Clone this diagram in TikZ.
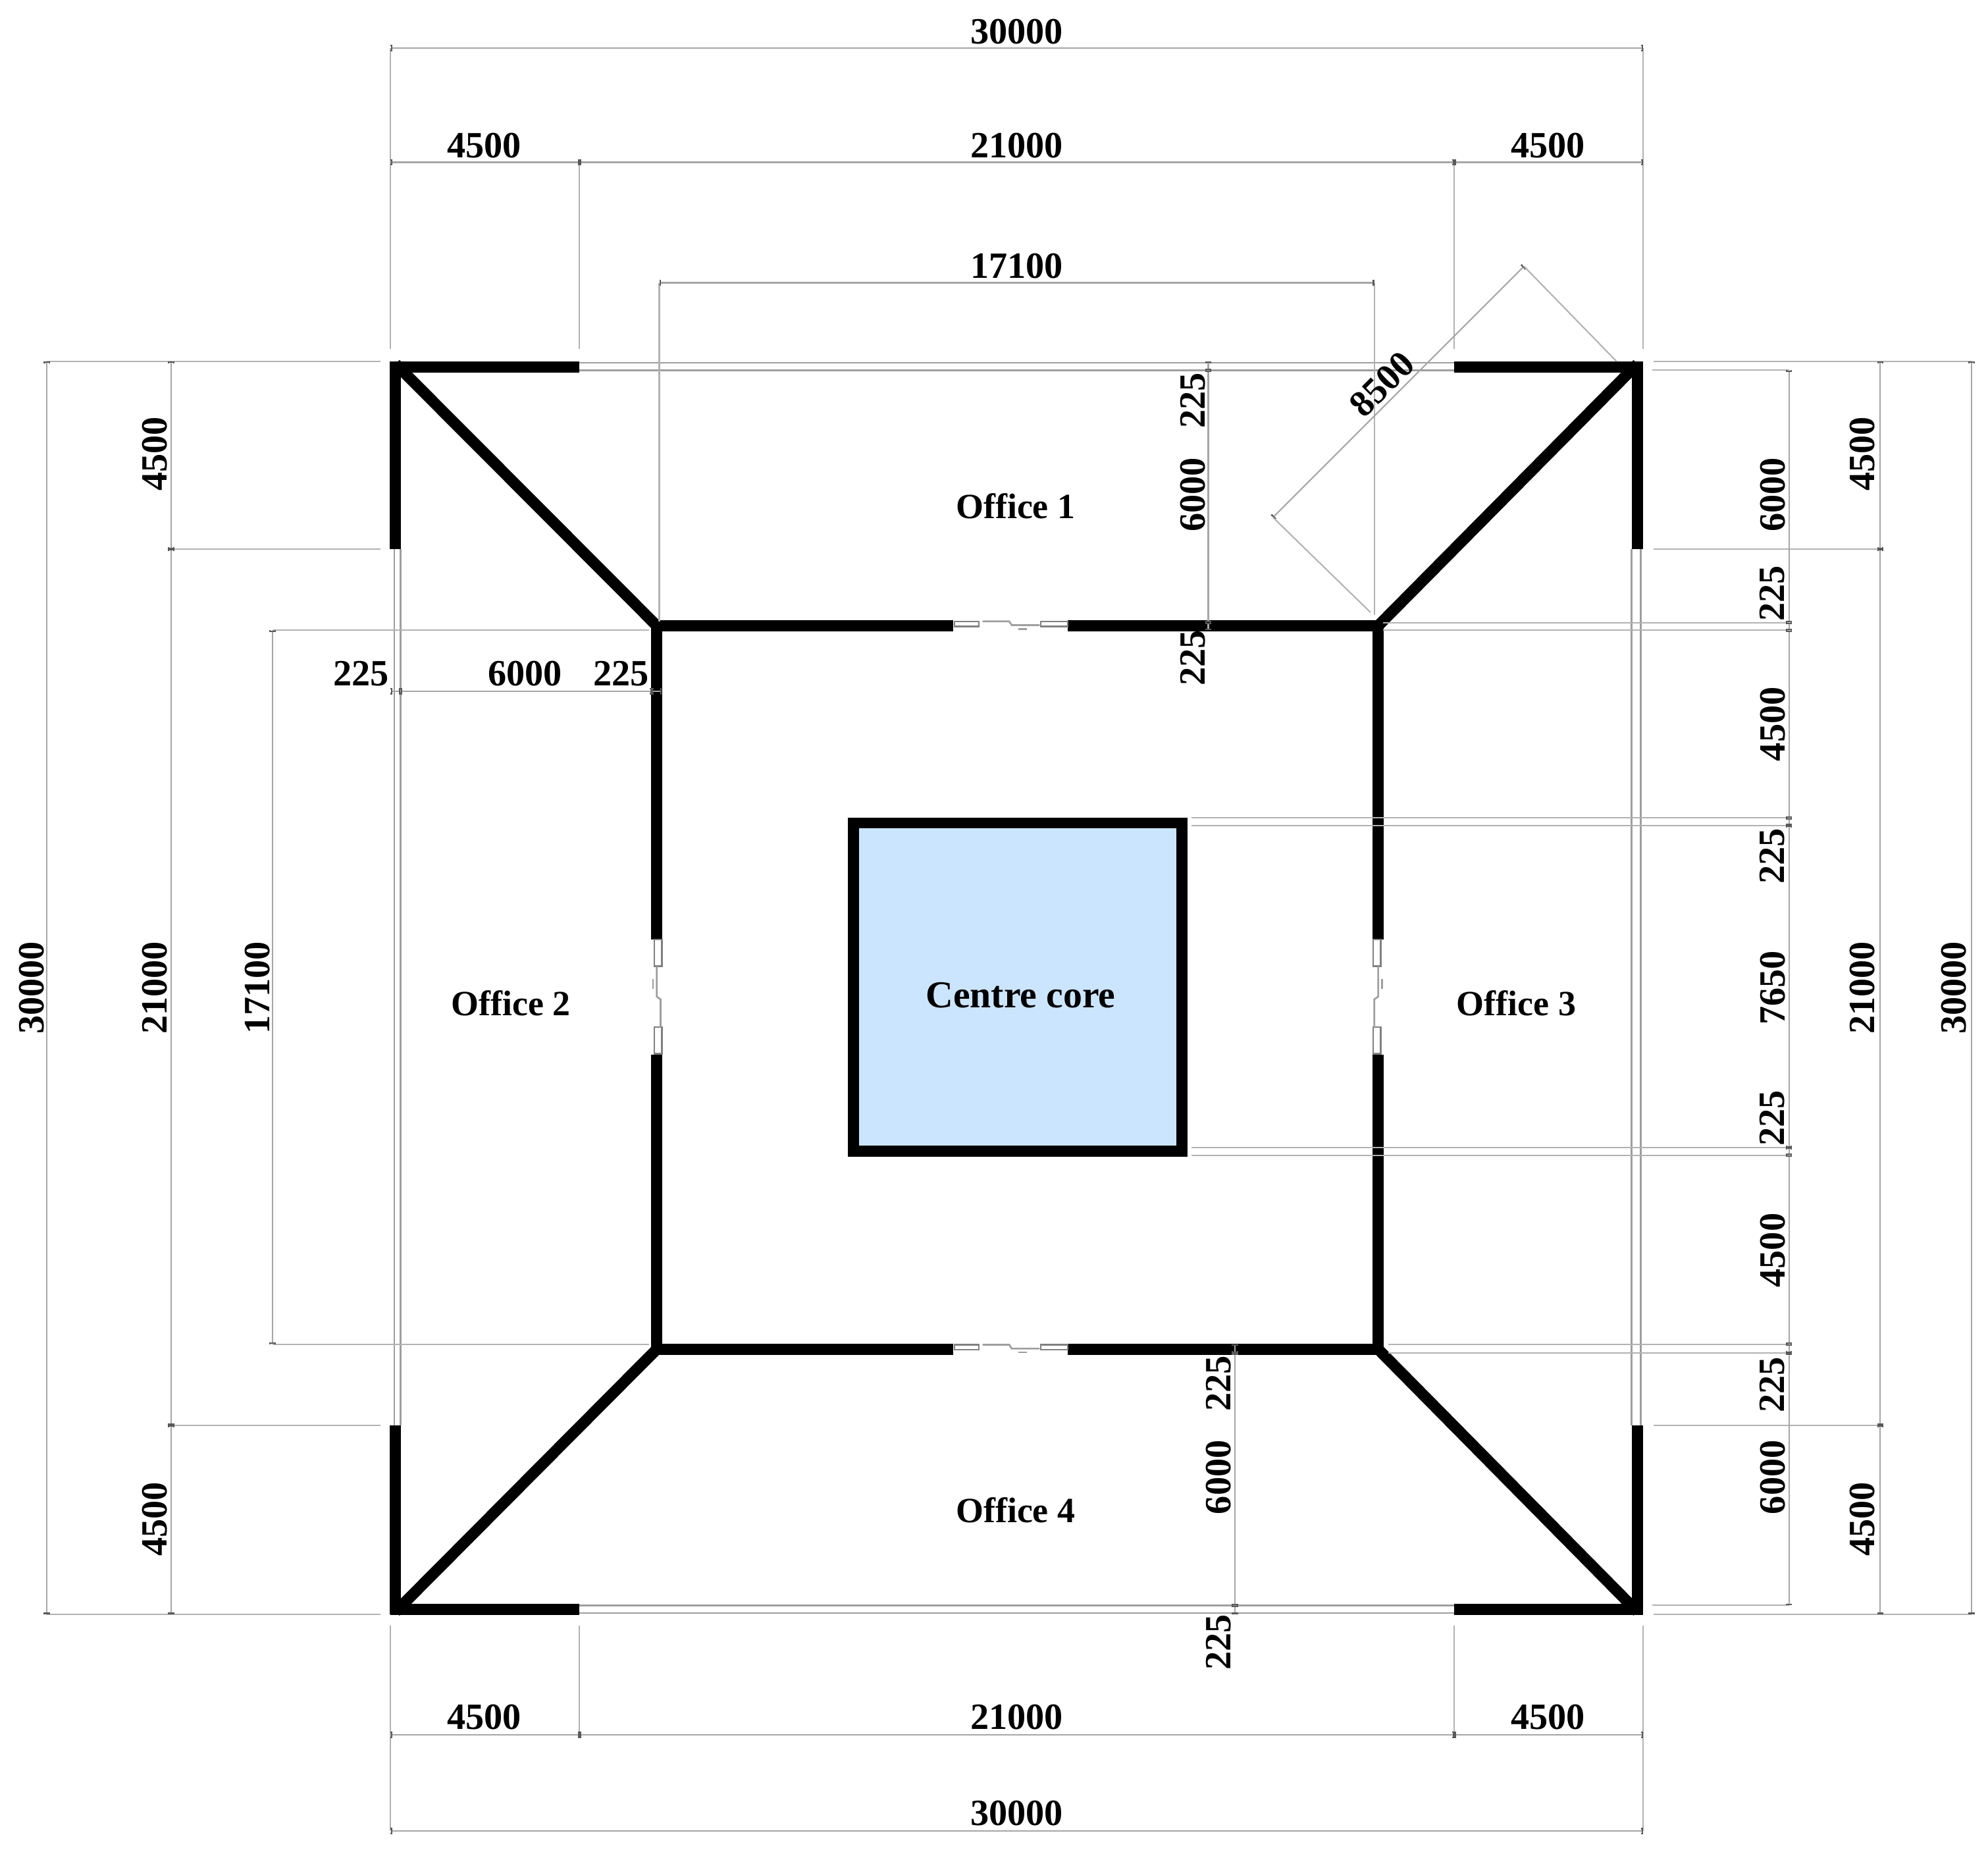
\documentclass[tikz,border=0pt]{standalone}
\usepackage{fontspec}
\setmainfont{Liberation Serif}
\usetikzlibrary{arrows.meta}
\definecolor{coreblue}{HTML}{CCE5FF}
\begin{document}
\begin{tikzpicture}[x=0.5pt,y=-0.5pt,
w/.style={draw=black,line width=4.4pt,line cap=butt},
g/.style={draw=black!38,line width=0.7pt},
f/.style={draw=black!50,line width=0.6pt,fill=white},
e/.style={draw=black!30,line width=0.55pt},
d/.style={draw=black!35,line width=0.55pt,{Bar[width=2.5pt,length=0.7pt,black!65]}-{Bar[width=2.5pt,length=0.7pt,black!65]}},
t/.style={font=\bfseries\fontsize{14.6}{16}\selectfont,inner sep=0pt},
r/.style={t,rotate=90},
o/.style={font=\bfseries\fontsize{14}{16}\selectfont,inner sep=0pt}]
\useasboundingbox (0,0) rectangle (1568,1461.6);

% glazing
\path[g] (457,286) -- (1147,286);
\path[g] (457,292) -- (1147,292);
\path[g] (457,1266) -- (1147,1266);
\path[g] (457,1272) -- (1147,1272);
\path[g] (311,433) -- (311,1124);
\path[g] (316,433) -- (316,1124);
\path[g] (1287,433) -- (1287,1124);
\path[g] (1294,433) -- (1294,1124);

% outer walls
\path[w] (457,289.5) -- (308,289.5);
\path[w] (312,285) -- (312,433);
\path[w] (1147,289.5) -- (1296,289.5);
\path[w] (1291.5,285) -- (1291.5,433);
\path[w] (457,1269) -- (308,1269);
\path[w] (312,1273) -- (312,1124);
\path[w] (1147,1269) -- (1296,1269);
\path[w] (1291.5,1273) -- (1291.5,1124);

% diagonals
\path[w] (312,287) -- (518,493.5);
\path[w] (1291.5,287) -- (1087,493.5);
\path[w] (312,1271) -- (518,1064);
\path[w] (1291.5,1271) -- (1087,1064);

% inner walls
\path[w] (514,493.5) -- (752,493.5);
\path[w] (842,493.5) -- (1091,493.5);
\path[w] (514,1064) -- (752,1064);
\path[w] (842,1064) -- (1091,1064);
\path[w] (518,490) -- (518,741);
\path[w] (518,832) -- (518,1068);
\path[w] (1087,490) -- (1087,741);
\path[w] (1087,832) -- (1087,1068);

% doors
\path[f] (753,490) rectangle (772,494);
\path[f] (821,490) rectangle (842,494);
\path[g] (775,490) -- (796,490) -- (798,493) -- (820,493);
\path[g] (803,496) -- (810,496);
\path[f] (753,1060.5) rectangle (772,1064.5);
\path[f] (821,1060.5) rectangle (842,1064.5);
\path[g] (775,1060.5) -- (796,1060.5) -- (798,1063.5) -- (820,1063.5);
\path[g] (803,1066.5) -- (810,1066.5);
\path[f] (516,741) rectangle (522,762);
\path[f] (516,810) rectangle (522,831);
\path[g] (518,762) -- (518,786) -- (521,788) -- (521,810);
\path[g] (515,772) -- (515,780);
\path[f] (1083,741) rectangle (1089,762);
\path[f] (1083,810) rectangle (1089,831);
\path[g] (1087,762) -- (1087,786) -- (1084,788) -- (1084,810);
\path[g] (1090,772) -- (1090,780);

% centre core
\path[w,fill=coreblue] (673,649) rectangle (932,908);

% extension lines top and bottom
\path[e] (308,38) -- (308,275);
\path[e] (1296,38) -- (1296,275);
\path[e] (457,128) -- (457,275);
\path[e] (1147,128) -- (1147,275);
\path[e] (520,223) -- (520,490);
\path[e] (1084,223) -- (1084,485);
\path[e] (308,1282) -- (308,1444);
\path[e] (1296,1282) -- (1296,1444);
\path[e] (457,1282) -- (457,1368);
\path[e] (1147,1282) -- (1147,1368);

% extension lines left
\path[e] (37,285) -- (300,285);
\path[e] (37,1273) -- (300,1273);
\path[e] (135,433) -- (300,433);
\path[e] (135,1124) -- (300,1124);
\path[e] (215,497) -- (512,497);
\path[e] (215,1060) -- (512,1060);

% extension lines right
\path[e] (1304,285) -- (1555,285);
\path[e] (1304,1273) -- (1555,1273);
\path[e] (1304,433) -- (1483,433);
\path[e] (1304,1124) -- (1483,1124);
\path[e] (1303,292) -- (1411,292);
\path[e] (1303,1266) -- (1411,1266);
\path[e] (1091,491) -- (1411,491);
\path[e] (1091,497) -- (1411,497);
\path[e] (940,645) -- (1411,645);
\path[e] (940,651) -- (1411,651);
\path[e] (940,905) -- (1411,905);
\path[e] (940,911) -- (1411,911);
\path[e] (1095,1060) -- (1411,1060);
\path[e] (1095,1067) -- (1411,1067);

% dimension lines
\path[d] (308,38) -- (1296,38);
\path[d] (308,128) -- (457,128);
\path[d] (457,128) -- (1147,128);
\path[d] (1147,128) -- (1296,128);
\path[d] (520,223) -- (1084,223);
\path[d] (308,1368) -- (457,1368);
\path[d] (457,1368) -- (1147,1368);
\path[d] (1147,1368) -- (1296,1368);
\path[d] (308,1444) -- (1296,1444);
\path[d] (37,285) -- (37,1273);
\path[d] (135,285) -- (135,433);
\path[d] (135,433) -- (135,1124);
\path[d] (135,1124) -- (135,1273);
\path[d] (215,497) -- (215,1060);
\path[d] (308,545) -- (316,545);
\path[d] (316,545) -- (514,545);
\path[d] (514,545) -- (522,545);
\path[d] (953,285) -- (953,292);
\path[d] (953,292) -- (953,491);
\path[d] (953,491) -- (953,497);
\path[d] (974,1060) -- (974,1067);
\path[d] (974,1067) -- (974,1266);
\path[d] (974,1266) -- (974,1273);
\path[d] (1483,285) -- (1483,433);
\path[d] (1483,433) -- (1483,1124);
\path[d] (1483,1124) -- (1483,1273);
\path[d] (1555,285) -- (1555,1273);
\path[d] (1411,292) -- (1411,491);
\path[d] (1411,491) -- (1411,497);
\path[d] (1411,497) -- (1411,645);
\path[d] (1411,645) -- (1411,651);
\path[d] (1411,651) -- (1411,905);
\path[d] (1411,905) -- (1411,911);
\path[d] (1411,911) -- (1411,1060);
\path[d] (1411,1060) -- (1411,1067);
\path[d] (1411,1067) -- (1411,1266);

% aligned dimension
\path[d] (1202,210) -- (1004,408);
\path[e] (1202,210) -- (1275,285);
\path[e] (1004,408) -- (1081,483);

% labels
\node[t] (topAll) at (802,25) {30000};
\node[t] (topL) at (382,115) {4500};
\node[t] (topM) at (802,115) {21000};
\node[t] (topR) at (1221,115) {4500};
\node[t] (topIn) at (802,210) {17100};
\node[t] (botL) at (382,1354) {4500};
\node[t] (botM) at (802,1354) {21000};
\node[t] (botR) at (1221,1354) {4500};
\node[t] (botAll) at (802,1430) {30000};
\node[r] (lftAll) at (25,779) {30000};
\node[r] (lftT) at (122,358) {4500};
\node[r] (lftM) at (122,779) {21000};
\node[r] (lftB) at (122,1198) {4500};
\node[r] (lftIn) at (203,779) {17100};
\node[t] (wA) at (285,531) {225};
\node[t] (wB) at (414,531) {6000};
\node[t] (wC) at (490,531) {225};
\node[r] (nA) at (941,316) {225};
\node[r] (nB) at (941,390) {6000};
\node[r] (nC) at (941,519) {225};
\node[r] (sA) at (961,1091) {225};
\node[r] (sB) at (961,1165) {6000};
\node[r] (sC) at (961,1295) {225};
\node[t,rotate=45] (diag) at (1090,303) {8500};
\node[r] (rA) at (1398,390) {6000};
\node[r] (rB) at (1398,468) {225};
\node[r] (rC) at (1398,571) {4500};
\node[r] (rD) at (1398,675) {225};
\node[r] (rE) at (1398,779) {7650};
\node[r] (rF) at (1398,882) {225};
\node[r] (rG) at (1398,986) {4500};
\node[r] (rH) at (1398,1092) {225};
\node[r] (rI) at (1398,1165) {6000};
\node[r] (rgtT) at (1469,358) {4500};
\node[r] (rgtM) at (1469,779) {21000};
\node[r] (rgtB) at (1469,1198) {4500};
\node[r] (rgtAll) at (1541,779) {30000};
\node[o] (office1) at (801,399) {Office 1};
\node[o] (office2) at (403,791) {Office 2};
\node[o] (office3) at (1196,791) {Office 3};
\node[o] (office4) at (801,1191) {Office 4};
\node[o,font=\bfseries\fontsize{15}{17}\selectfont] (core) at (805,785) {Centre core};

\end{tikzpicture}
\end{document}
